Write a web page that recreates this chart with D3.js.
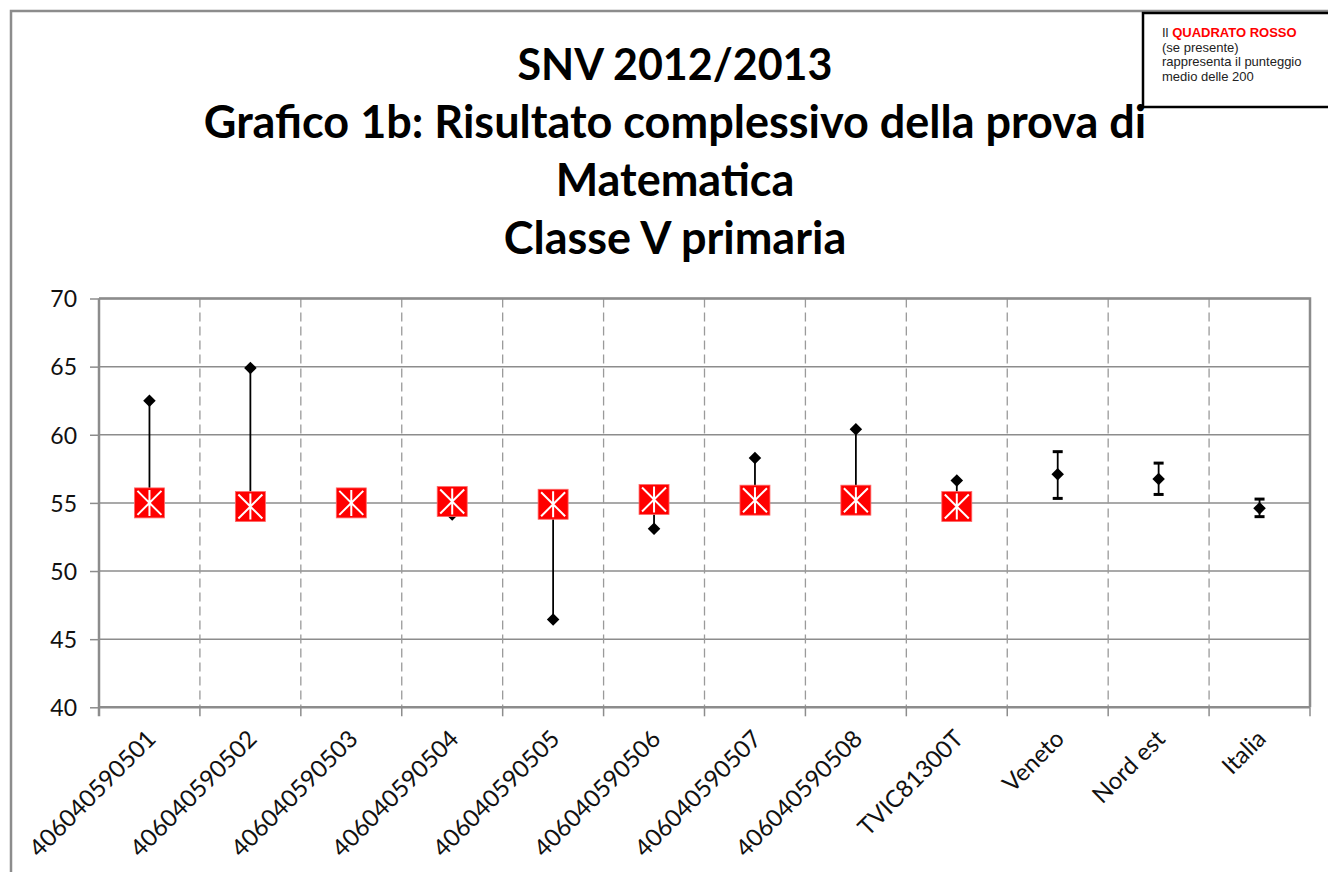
<!DOCTYPE html>
<html>
<head>
<meta charset="utf-8">
<script src="https://cdn.jsdelivr.net/npm/d3@7"></script>
<style>
  body { margin: 0; background: #fff; }
  svg { display: block; }
</style>
</head>
<body>
<div id="chart"></div>
<script>
// categories on the x axis
const categories = ['406040590501', '406040590502', '406040590503', '406040590504', '406040590505',
    '406040590506', '406040590507', '406040590508', 'TVIC81300T', 'Veneto', 'Nord est', 'Italia'];
// punteggio della classe (rombo nero)
const scores = [62.5, 64.9, 55.0, 54.15, 46.45, 53.1, 58.3, 60.4, 56.65, 57.1, 56.75, 54.6];
// punteggio medio delle 200 (quadrato rosso), null if absent
const redSquare = [55.0, 54.73, 55.0, 55.1, 54.9, 55.25, 55.2, 55.2, 54.73, null, null, null];
// confidence interval for the reference areas
const upperCI = [null, null, null, null, null, null, null, null, null, 58.76, 57.92, 55.28];
const lowerCI = [null, null, null, null, null, null, null, null, null, 55.33, 55.62, 53.99];
const yTicks = [40, 45, 50, 55, 60, 65, 70];
const titleLines = ['SNV 2012/2013', 'Grafico 1b: Risultato complessivo della prova di', 'Matematica', 'Classe V primaria'];

const width = 1328, height = 872;
const plot = {left: 99, right: 1310, top: 298.5, bottom: 707.3};
const font = 'Lato, "Open Sans", sans-serif';

const svg = d3.select('#chart').append('svg').attr('width', width).attr('height', height);

// outer chart frame
svg.append('path')
    .attr('d', `M11,${height} L11,11 L${width},11`)
    .attr('fill', 'none').attr('stroke', '#8c8c8c').attr('stroke-width', 2.5);

// title
svg.append('g').selectAll('text').data(titleLines).enter().append('text')
    .attr('x', 675)
    .attr('y', (d, i) => 80 + i * 58)
    .attr('text-anchor', 'middle')
    .attr('font-family', font).attr('font-weight', 'bold')
    .attr('font-size', (d, i) => i === 0 ? 43 : 45)
    .attr('fill', '#000')
    .text(d => d);

let x = d3.scaleBand().domain(categories).range([plot.left, plot.right]).padding(0);
let y = d3.scaleLinear().domain([40, 70]).range([plot.bottom, plot.top]);
let cx = d => x(d) + x.bandwidth() / 2;

// horizontal grid
svg.append('g').selectAll('line').data(yTicks.slice(1)).enter().append('line')
    .attr('x1', plot.left).attr('x2', plot.right)
    .attr('y1', d => y(d)).attr('y2', d => y(d))
    .attr('stroke', '#8c8c8c').attr('stroke-width', 1.5);

// vertical dashed grid at category boundaries
svg.append('g').selectAll('line').data(categories.slice(1)).enter().append('line')
    .attr('x1', d => x(d)).attr('x2', d => x(d))
    .attr('y1', plot.top).attr('y2', plot.bottom)
    .attr('stroke', '#9a9a9a').attr('stroke-width', 1.3).attr('stroke-dasharray', '9,5');

// plot border top/right
svg.append('path')
    .attr('d', `M${plot.left},${plot.top} L${plot.right},${plot.top} L${plot.right},${plot.bottom}`)
    .attr('fill', 'none').attr('stroke', '#8c8c8c').attr('stroke-width', 2.5);

// y axis
let yAxis = svg.append('g').attr('transform', `translate(${plot.left},0)`)
    .call(d3.axisLeft(y).tickValues(yTicks).tickSize(9).tickPadding(13));
yAxis.select('.domain').attr('stroke', '#8c8c8c').attr('stroke-width', 2.5).attr('d', `M0,${plot.top}V${plot.bottom + 9}`);
yAxis.selectAll('.tick line').attr('stroke', '#8c8c8c').attr('stroke-width', 1.5);
yAxis.selectAll('.tick text').attr('font-family', font).attr('font-size', 23).attr('fill', '#111').attr('dy', '0.36em');

// x axis
let bounds = categories.map(d => x(d)).concat([plot.right]);
let xAxis = svg.append('g');
xAxis.append('line')
    .attr('x1', plot.left).attr('x2', plot.right)
    .attr('y1', plot.bottom).attr('y2', plot.bottom)
    .attr('stroke', '#8c8c8c').attr('stroke-width', 2.5);
xAxis.selectAll('line.tick').data(bounds.slice(1)).enter().append('line')
    .attr('class', 'tick')
    .attr('x1', d => d).attr('x2', d => d)
    .attr('y1', plot.bottom).attr('y2', plot.bottom + 9)
    .attr('stroke', '#8c8c8c').attr('stroke-width', 1.5);
xAxis.selectAll('text').data(categories).enter().append('text')
    .attr('transform', d => `translate(${cx(d) + 8},${plot.bottom + 33}) rotate(-45)`)
    .attr('text-anchor', 'end')
    .attr('font-family', font).attr('font-size', 24).attr('fill', '#111')
    .text(d => d);

let rows = categories.map((c, i) => ({cat: c, score: scores[i], red: redSquare[i], hi: upperCI[i], lo: lowerCI[i]}));

// line from class score to the red square
let marks = svg.append('g');
marks.selectAll('line.link').data(rows.filter(d => d.red !== null)).enter().append('line')
    .attr('class', 'link')
    .attr('x1', d => cx(d.cat)).attr('x2', d => cx(d.cat))
    .attr('y1', d => y(d.score)).attr('y2', d => y(d.red))
    .attr('stroke', '#000').attr('stroke-width', 1.8);

// confidence interval bars
let ci = rows.filter(d => d.hi !== null);
marks.selectAll('line.ci').data(ci).enter().append('line')
    .attr('class', 'ci')
    .attr('x1', d => cx(d.cat)).attr('x2', d => cx(d.cat))
    .attr('y1', d => y(d.hi)).attr('y2', d => y(d.lo))
    .attr('stroke', '#000').attr('stroke-width', 1.8);
['hi', 'lo'].forEach(k => {
    marks.selectAll('line.cap-' + k).data(ci).enter().append('line')
        .attr('class', 'cap-' + k)
        .attr('x1', d => cx(d.cat) - 5).attr('x2', d => cx(d.cat) + 5)
        .attr('y1', d => y(d[k])).attr('y2', d => y(d[k]))
        .attr('stroke', '#000').attr('stroke-width', 3);
});

// diamonds
let diamond = d3.symbol().type(d3.symbolDiamond2).size(100);
marks.selectAll('path.score').data(rows).enter().append('path')
    .attr('class', 'score')
    .attr('transform', d => `translate(${cx(d.cat)},${y(d.score)})`)
    .attr('d', diamond)
    .attr('fill', '#000');

// red squares with white asterisk
let sq = 15;
let squares = marks.selectAll('g.red').data(rows.filter(d => d.red !== null)).enter().append('g')
    .attr('class', 'red')
    .attr('transform', d => `translate(${cx(d.cat)},${y(d.red)})`);
squares.append('rect')
    .attr('x', -sq).attr('y', -sq).attr('width', 2 * sq).attr('height', 2 * sq)
    .attr('fill', '#ff0000').attr('stroke', '#ff6a6a').attr('stroke-width', 0.8);
squares.append('path')
    .attr('d', `M${-sq + 3},${-sq + 3}L${sq - 3},${sq - 3}M${sq - 3},${-sq + 3}L${-sq + 3},${sq - 3}M0,${-sq + 2}L0,${sq - 2}`)
    .attr('stroke', '#fff').attr('stroke-width', 2).attr('fill', 'none');

// note box top right
let note = svg.append('g');
note.append('rect')
    .attr('x', 1143).attr('y', 13).attr('width', 200).attr('height', 94)
    .attr('fill', '#fff').attr('stroke', '#000').attr('stroke-width', 2.5);
let noteLines = note.append('g').attr('font-family', '"Liberation Sans", Arial, sans-serif').attr('font-size', 13).attr('fill', '#222');
let first = noteLines.append('text').attr('x', 1162).attr('y', 37);
first.append('tspan').text('Il ');
first.append('tspan').attr('fill', '#ff0000').attr('font-weight', 'bold').text('QUADRATO  ROSSO');
noteLines.append('text').attr('x', 1162).attr('y', 51.5).text('(se  presente)');
noteLines.append('text').attr('x', 1162).attr('y', 66).text('rappresenta il punteggio');
noteLines.append('text').attr('x', 1162).attr('y', 81).text('medio delle 200');
</script>
</body>
</html>
